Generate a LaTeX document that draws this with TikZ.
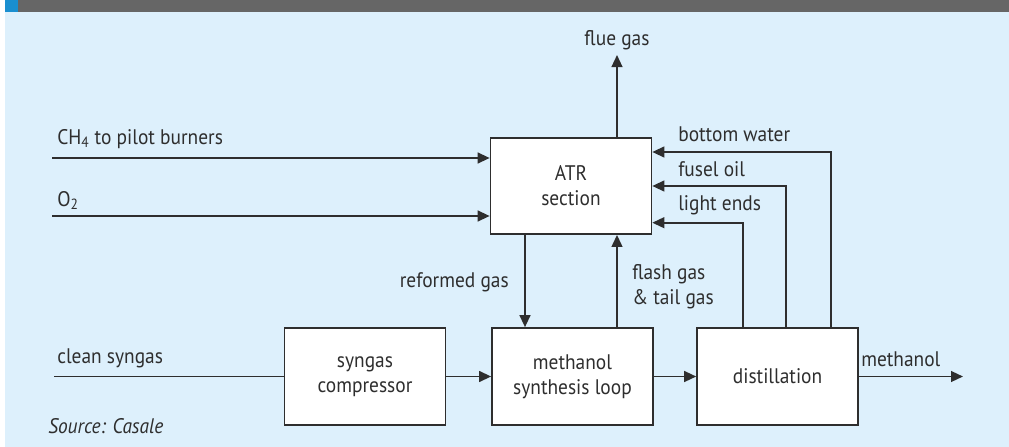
\documentclass[tikz,border=0pt]{standalone}
\usepackage{fontspec}
\setmainfont{PT Sans}[FakeStretch=0.92]
\usetikzlibrary{arrows.meta,positioning}
\definecolor{bgblue}{HTML}{DDF0FC}
\definecolor{hdrgray}{HTML}{666666}
\definecolor{hdrblue}{HTML}{1A8FD0}
\definecolor{ink}{HTML}{2E2E2E}

\begin{document}
\begin{tikzpicture}[
  x=0.025cm, y=-0.025cm,
  font=\fontsize{15}{17.8}\selectfont, text=ink,
  unit/.style={draw=ink, line width=1.3pt, fill=white, align=center, minimum width=4.02cm, minimum height=2.42cm, inner sep=0pt},
  flow/.style={draw=ink, line width=1.3pt, -{Triangle[length=3mm,width=2.7mm]}},
  pipe/.style={draw=ink, line width=1.3pt},
  lbl/.style={inner sep=0pt, align=left}
]
\useasboundingbox (0,0) rectangle (1009,447);

% panel and header bar
\fill[bgblue] (5,12) rectangle (1009,447);
\fill[hdrgray] (18,0) rectangle (1009,12);
\fill[hdrblue] (5,0) rectangle (18,12);

% process units
\node[unit, minimum height=2.4cm] (atr) at (571,186) {ATR\\section};
\node[unit] (comp) at (365,376.5) {syngas\\compressor};
\node[unit, right=1.12cm of comp] (loop) {methanol\\synthesis loop};
\node[unit, right=1.06cm of loop] (dist) {distillation};

% free ends and branch points
\coordinate (ch4in) at (52,158);
\coordinate (o2in) at (52,216);
\coordinate (synin) at (54,376.5);
\coordinate (flue) at (617,55);
\coordinate (meoh) at (963,376.5);
\coordinate (ref) at (525,280);
\coordinate (flash) at (617,280);
\coordinate (bw) at (831,152);
\coordinate (fo) at (786,186);
\coordinate (le) at (743,222.7);

% streams
\draw[flow] (ch4in) -- (ch4in -| atr.west);
\draw[flow] (o2in) -- (o2in -| atr.west);
\draw[pipe] (synin) -- (comp.west);
\draw[flow] (comp) -- (loop);
\draw[flow] (loop) -- (dist);
\draw[flow] (dist.east) -- (meoh);
\draw[flow] (atr.north -| flue) -- (flue);
\draw[flow] (atr.south -| ref) -- (loop.north -| ref);
\draw[flow] (loop.north -| flash) -- (atr.south -| flash);
\draw[flow] (dist.north -| bw) |- (atr.east |- bw);
\draw[flow] (dist.north -| fo) |- (atr.east |- fo);
\draw[flow] (dist.north -| le) |- (atr.east |- le);

% stream labels
\node[lbl, anchor=base] (fluelbl) at (617,46) {flue gas};
\node[lbl, anchor=base west] (ch4lbl) at (57,144) {CH\textsubscript{4} to pilot burners};
\node[lbl, anchor=base west] (o2lbl) at (57,206) {O\textsubscript{2}};
\node[lbl, anchor=base west] (bwlbl) at (678,141.7) {bottom water};
\node[lbl, anchor=base west] (folbl) at (678,176) {fusel oil};
\node[lbl, anchor=base west] (lelbl) at (678,210) {light ends};
\node[lbl, anchor=base east] (reflbl) at (509,287) {reformed gas};
\node[lbl, anchor=north west] (flashlbl) at (632,264) {flash gas\\\& tail gas};
\node[lbl, anchor=base west] (synlbl) at (57,363) {clean syngas};
\node[lbl, anchor=base west] (meohlbl) at (861,366) {methanol};
\node[lbl, anchor=base west, font=\fontsize{15}{17.8}\selectfont\itshape] (src) at (48,433) {Source: Casale};
\end{tikzpicture}
\end{document}
